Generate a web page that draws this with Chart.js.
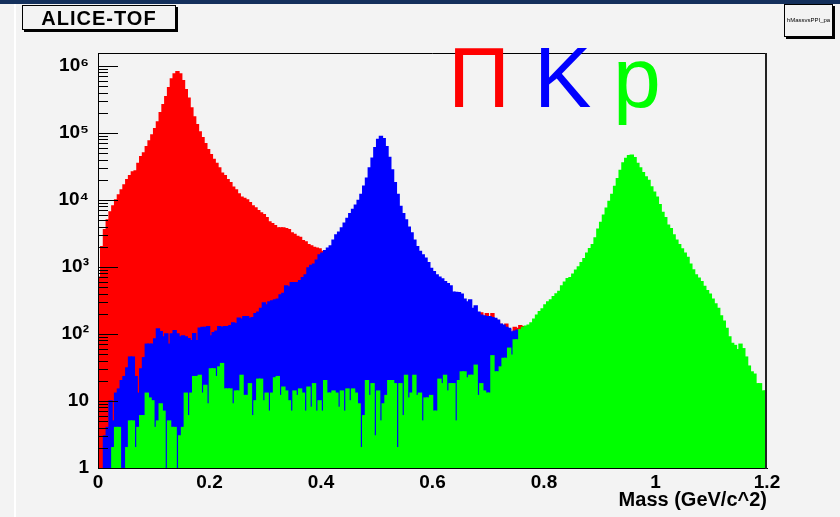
<!DOCTYPE html>
<html>
<head>
<meta charset="utf-8">
<script src="https://cdn.jsdelivr.net/npm/chart.js@4/dist/chart.umd.min.js"></script>
<style>
  body { margin: 0; background: #f3f3f3; }
  #wrap { position: relative; width: 840px; height: 517px; overflow: hidden; background: #f3f3f3; }
  #massChart { position: absolute; left: 0; top: 0; }
  .topbar { position: absolute; left: 0; top: 0; width: 840px; height: 4px; background: #14305c; }
  .edge { position: absolute; left: 14px; top: 4px; width: 2px; height: 513px; background: #ffffff; }
  .titlebox { position: absolute; left: 22px; top: 5px; width: 152px; height: 23px; border: 1px solid #000;
    box-shadow: 2px 2px 0 #000; font: bold 20px "Liberation Sans", Arial, sans-serif; letter-spacing: 1px;
    text-align: center; line-height: 24px; color: #000; }
  .histbox { position: absolute; left: 784px; top: 4px; width: 47px; height: 31px; border: 1px solid #000;
    box-shadow: 2px 2px 0 #000; font: 6px "Liberation Sans", Arial, sans-serif; text-align: center;
    line-height: 31px; color: #000; white-space: nowrap; overflow: hidden; }
  .part { position: absolute; top: 34px; font: 86px "Liberation Sans", Arial, sans-serif; line-height: 86px; }
</style>
</head>
<body>
<div id="wrap">
  <canvas id="massChart" width="840" height="517"></canvas>
  <div class="topbar"></div>
  <div class="edge"></div>
  <div class="titlebox">ALICE-TOF</div>
  <div class="histbox">hMassvsPPI_pa</div>
  <span class="part" style="left:448px;color:#ff0000">Π</span>
  <span class="part" style="left:534px;color:#0000ff">K</span>
  <span class="part" style="left:613px;color:#00ff00">p</span>
</div>
<script>
// counts per 0.005 GeV/c^2 bin, 0 .. 1.2
const binWidth = 0.005;

const pionCounts = [
  700, 2000, 3600, 5000, 6600, 8100, 10000, 11800, 14000, 16700, 20000, 23000, 26000, 27000, 35000, 44000, 50000, 62000, 76000, 93000,
  115000, 146000, 200000, 263000, 345000, 470000, 640000, 760000, 820000, 760000, 600000, 440000, 330000, 235000, 173000, 132000, 103000, 85000, 69000, 56000,
  47000, 40000, 35000, 30000, 25000, 23000, 20000, 18000, 15500, 14000, 12300, 11000, 10500, 10000, 9100, 8100, 7600, 6900, 6400, 6000,
  5400, 4700, 4400, 4100, 3800, 3800, 3800, 3700, 3600, 3200, 3050, 2850, 2750, 2450, 2350, 2150, 2050, 1950, 1900, 1850,
  1700, 1650, 1550, 1450, 1400, 1350, 1300, 1250, 1200, 1150, 1100, 1050, 1000, 950, 920, 880, 850, 820, 790, 760,
  730, 700, 680, 650, 620, 600, 580, 560, 540, 520, 500, 480, 460, 440, 420, 400, 390, 375, 360, 345,
  330, 320, 310, 300, 290, 280, 270, 260, 250, 245, 240, 230, 225, 215, 205, 190, 200, 205, 180, 200,
  175, 200, 165, 155, 138, 130, 140, 115, 105, 125, 120, 132, 128, 118, 112, 108, 104, 100, 97, 94,
  91, 88, 85, 82, 80, 77, 75, 72, 70, 68, 66, 64, 62, 60, 58, 56, 55, 53, 52, 50,
  49, 47, 46, 45, 44, 43, 42, 41, 40, 39, 38, 37, 36, 35, 34, 33, 32, 31, 30, 29,
  28, 27, 26, 25, 24, 23, 22, 21, 20, 19, 18, 18, 17, 16, 15, 15, 14, 13, 13, 12,
  12, 11, 11, 10, 10, 9, 9, 8, 8, 8, 7, 7, 7, 6, 6, 6, 5, 5, 5, 4
];

const kaonCounts = [
  0, 0, 3, 4, 10, 5, 13, 15, 20, 23, 31, 45, 45, 23, 13, 30, 44, 70, 70, 70,
  84, 118, 108, 90, 100, 70, 100, 112, 100, 90, 93, 90, 85, 79, 101, 79, 122, 125, 125, 128,
  93, 104, 110, 128, 125, 128, 128, 132, 145, 142, 172, 165, 180, 180, 170, 175, 200, 210, 240, 290,
  270, 300, 310, 320, 330, 380, 400, 520, 500, 580, 580, 580, 620, 690, 760, 960, 1050, 1100, 1260, 1500,
  1600, 1750, 1900, 2050, 2500, 3000, 3300, 3800, 4500, 5300, 6200, 7200, 8300, 9800, 12000, 16000, 21000, 30000, 42000, 60000,
  80000, 88000, 82000, 62000, 43000, 28000, 18000, 12000, 8000, 6200, 5000, 3900, 3200, 2500, 2000, 1700, 1500, 1350, 1150, 950,
  850, 760, 700, 660, 600, 560, 520, 420, 415, 410, 390, 330, 300, 320, 240, 260, 210, 190, 185, 180,
  180, 175, 170, 160, 140, 135, 125, 120, 107, 110, 113, 105, 98, 92, 88, 84, 80, 76, 72, 68,
  64, 60, 57, 54, 51, 48, 45, 42, 40, 38, 36, 34, 32, 30, 28, 27, 25, 24, 22, 21,
  20, 19, 18, 17, 16, 15, 14, 13, 12, 11, 11, 10, 10, 9, 9, 8, 8, 7, 7, 6,
  6, 6, 5, 5, 5, 4, 4, 4, 3, 3, 3, 3, 2, 2, 2, 2, 2, 2, 1, 1,
  1, 1, 1, 1, 1, 1, 0, 1, 0, 1, 0, 1, 0, 0, 1, 0, 0, 1, 0, 0
];

const protonCounts = [
  0, 0, 0, 0, 0, 2, 4, 4, 0, 0, 2, 5, 5, 2, 4, 6, 6, 13, 11, 10,
  4, 5, 9, 7, 0, 5, 4, 4, 0, 3, 4, 13, 6, 13, 23, 23, 24, 13, 17, 9,
  30, 30, 23, 32, 36, 15, 15, 15, 9, 14, 14, 24, 12, 12, 18, 6, 10, 21, 21, 10,
  13, 7, 13, 22, 23, 12, 16, 14, 10, 7, 14, 12, 15, 13, 7, 16, 8, 18, 7, 10,
  7, 20, 13, 13, 14, 13, 8, 14, 7, 15, 10, 15, 13, 9, 2, 6, 20, 12, 18, 3,
  14, 5, 9, 12, 20, 20, 18, 2, 18, 6, 24, 11, 13, 24, 12, 13, 5, 11, 11, 12,
  7, 7, 21, 18, 24, 14, 18, 18, 5, 20, 27, 27, 22, 24, 24, 34, 12, 18, 14, 13,
  13, 47, 27, 27, 32, 43, 43, 61, 48, 81, 81, 115, 125, 130, 135, 145, 165, 190, 215, 235,
  270, 300, 320, 360, 395, 430, 520, 590, 665, 690, 780, 890, 1000, 1150, 1320, 1600, 1860, 2150, 2700, 3650,
  4600, 5900, 7500, 9500, 12000, 15800, 20700, 27500, 35500, 41500, 45500, 46500, 42500, 35000, 30000, 25500, 22000, 19500, 15600, 13000,
  11000, 8500, 6500, 5400, 4200, 3700, 3000, 2500, 2150, 1850, 1600, 1380, 1100, 900, 760, 680, 600, 510, 440, 390,
  330, 280, 240, 185, 155, 120, 90, 72, 67, 58, 70, 60, 45, 33, 27, 25, 18, 18, 14, 14
];

const massBins = pionCounts.map((_, i) => (i + 0.5) * binWidth);
const xTickStep = 0.2;
const yDecades = [1, 10, 100, 1000, 10000, 100000, 1000000];
const supers = { 2: '\u00b2', 3: '\u00b3', 4: '\u2074', 5: '\u2075', 6: '\u2076' };

const FONT = '"Liberation Sans", Arial, sans-serif';

function hist(label, counts, color, order) {
  return {
    label: label,
    data: counts.map(v => v > 0 ? v : null),
    backgroundColor: color,
    borderWidth: 0,
    barPercentage: 1,
    categoryPercentage: 1,
    inflateAmount: 0.8,
    grouped: false,
    order: order
  };
}

// ROOT-like frame and inner log ticks, drawn over the fills
const frameTicks = {
  id: 'frameTicks',
  afterDatasetsDraw(chart) {
    const { ctx, chartArea: a, scales: { y } } = chart;
    ctx.save();
    ctx.strokeStyle = '#000';
    ctx.lineWidth = 1;
    ctx.beginPath();
    for (let d = 0; d <= 6; d++) {
      for (let m = 1; m <= 9; m++) {
        const v = m * Math.pow(10, d);
        if (v > y.max) break;
        const py = Math.round(y.getPixelForValue(v)) + 0.5;
        ctx.moveTo(a.left, py);
        ctx.lineTo(a.left + (m === 1 ? 20 : 10), py);
      }
    }
    ctx.stroke();
    ctx.beginPath();
    ctx.moveTo(Math.round(a.left) + 0.5, Math.round(a.top) + 0.5);
    ctx.lineTo(Math.round(a.right), Math.round(a.top) + 0.5);
    ctx.moveTo(Math.round(a.left) + 0.5, Math.round(a.top));
    ctx.lineTo(Math.round(a.left) + 0.5, Math.round(a.bottom) + 0.5);
    ctx.lineTo(Math.round(a.right), Math.round(a.bottom) + 0.5);
    ctx.stroke();
    ctx.strokeStyle = '#222';
    ctx.lineWidth = 2;
    ctx.beginPath();
    ctx.moveTo(Math.round(a.right) - 1, Math.round(a.top));
    ctx.lineTo(Math.round(a.right) - 1, Math.round(a.bottom) + 1);
    ctx.stroke();
    ctx.restore();
  }
};

const config = {
  type: 'bar',
  data: {
    labels: massBins,
    datasets: [
      hist('p', protonCounts, '#00ff00', 1),
      hist('K', kaonCounts, '#0000ff', 2),
      hist('\u03c0', pionCounts, '#ff0000', 3)
    ]
  },
  options: {
    responsive: false,
    animation: false,
    layout: { padding: { top: 53, right: 73, left: 0, bottom: 0 } },
    plugins: { legend: { display: false }, tooltip: { enabled: false } },
    scales: {
      x: {
        type: 'linear',
        min: 0,
        max: 1.2,
        offset: false,
        grid: { display: false, drawTicks: false },
        border: { color: '#000', width: 1 },
        ticks: {
          stepSize: xTickStep,
          color: '#000',
          padding: 3,
          maxRotation: 0,
          font: { family: FONT, size: 19, weight: 'bold' },
          callback(value) { return String(Math.round(value * 10) / 10); }
        },
        title: {
          display: true,
          text: 'Mass (GeV/c^2)',
          align: 'end',
          color: '#000',
          padding: { top: 0, bottom: 5 },
          font: { family: FONT, size: 20, weight: 'bold' }
        },
        afterFit(scale) { scale.height = 49; }
      },
      y: {
        type: 'logarithmic',
        min: 1,
        max: 1.56e6,
        grid: { display: false, drawTicks: false },
        border: { color: '#000', width: 1 },
        afterBuildTicks(scale) { scale.ticks = yDecades.map(v => ({ value: v })); },
        ticks: {
          autoSkip: false,
          color: '#000',
          padding: 9,
          font: { family: FONT, size: 19, weight: 'bold' },
          callback(value) {
            const e = Math.round(Math.log10(value));
            if (e === 0) return '1';
            if (e === 1) return '10';
            return '10' + supers[e];
          }
        },
        afterFit(scale) { scale.width = 98; }
      }
    }
  },
  plugins: [frameTicks]
};

const massChart = new Chart(document.getElementById('massChart'), config);
</script>
</body>
</html>
